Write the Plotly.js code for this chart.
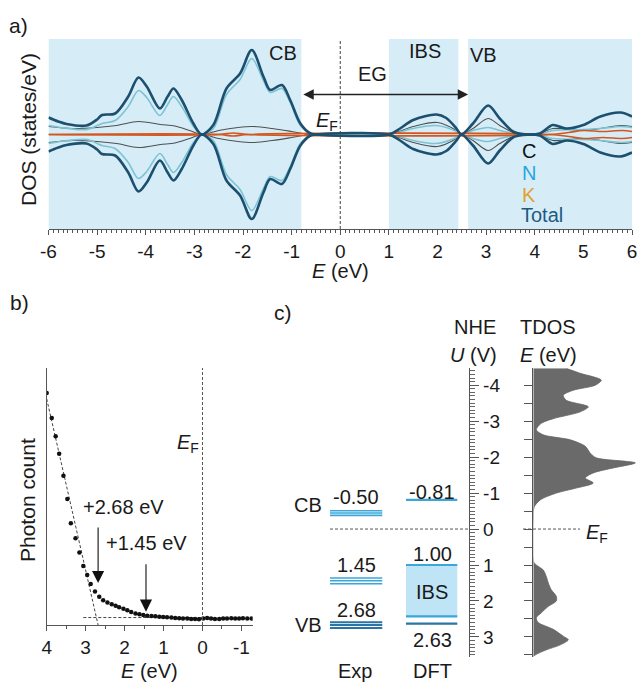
<!DOCTYPE html>
<html><head><meta charset="utf-8">
<script src="https://cdn.plot.ly/plotly-3.0.1.min.js"></script>
<style>html,body{margin:0;padding:0;background:#fff}#g{width:638px;height:684px}</style>
</head><body><div id="g"></div>
<script>
// ---------- Panel a: DOS (upper half; lower half is mirror) ----------
const totE = [-6.0,-5.8,-5.63,-5.22,-5.0,-4.9,-4.63,-4.36,-4.15,-3.98,-3.71,-3.55,-3.43,-3.26,-3.02,-2.85,-2.61,-2.34,-2.06,-1.82,-1.58,-1.44,-1.2,-1.03,-0.82,-0.61,-0.5,1.0,1.23,1.5,1.98,2.18,2.39,2.49,2.73,3.04,3.28,3.55,3.75,4.1,4.37,4.65,5.0,5.35,5.76,6.0];
const totH = [17,13,10.5,9,15,19.5,21,38,57,48,26,38,46,34.5,11,0,9.5,46,61,84.5,58,44.5,49.5,34.5,11,1,0,0,6,14.5,20,16.5,6,0,11,29,16,3,0.5,1,9.5,6,9.5,18,22,18];
const nE = [-6.0,-5.6,-5.2,-4.9,-4.63,-4.36,-4.15,-3.98,-3.71,-3.55,-3.43,-3.26,-3.02,-2.85,-2.61,-2.34,-2.06,-1.82,-1.58,-1.44,-1.2,-1.03,-0.82,-0.61,-0.5,1.0,1.5,1.98,2.39,2.49,2.73,3.04,3.28,3.55,3.75,4.1,4.37,5.0,5.35,5.76,6.0];
const nH = [9,6,5,11,14,28,44,37,19,30,38,28,8,0,6,40,55,76,54,42,46,32,9,0.5,0,0,6,9,3,0,4,7,4,1,0,0.5,4,5,6,8,7];
const cE = [-6.0,-5.5,-5.0,-4.6,-4.15,-3.7,-3.4,-3.1,-2.85,-2.5,-2.1,-1.8,-1.4,-1.0,-0.7,-0.6,1.0,1.5,2.0,2.39,2.49,2.73,3.04,3.28,3.55,3.75,4.1,4.37,5.0,5.35,5.76,6.0];
const cH = [8,6,7,9,13,10,8.5,4,0,4,7,8,6,3,0.5,0,0,8,12,4,0,6,16,9,2,0,1,6,4,6,9,8];
const kE = [-6.0,-2.5,-2.2,-1.9,4.3,4.7,5.0,5.4,5.8,6.0];
const kH = [0,0,1.5,0,0,2,4,3,4,3];
const bandEdges = [[-6,-0.8],[1.0,2.43],[2.63,6]];
const bandNames = ['CB','IBS','VB'];
const aTicks = [-6,-5,-4,-3,-2,-1,0,1,2,3,4,5,6];
const aTickText = ['-6','-5','-4','-3','-2','-1','0','1','2','3','4','5','6'];
const gapArrow = [-0.79, 2.63];

// ---------- Panel b: photon count ----------
const bE = [4.00,3.87,3.77,3.68,3.57,3.47,3.38,3.26,3.16,3.06,2.96,2.87,2.76,2.65,2.55,2.44,2.33,2.23,2.14,2.03,1.93,1.83,1.72,1.62,1.52,1.42,1.31,1.21,1.11,1.01,0.91,0.80,0.70,0.60,0.50,0.39,0.29,0.19,0.09,-0.02,-0.12,-0.22,-0.32,-0.43,-0.53,-0.63,-0.74,-0.84,-0.94,-1.04,-1.15,-1.26];
const bC = [90.3,80.5,73.4,66.6,58.1,49.0,39.6,33.8,28.2,23.0,19.5,16.0,13.0,11.0,9.6,8.8,8.1,7.5,6.9,6.3,5.7,5.1,4.5,4.2,3.9,3.6,3.5,3.4,3.2,3.1,3.0,2.9,2.7,2.6,2.5,2.5,2.3,2.3,2.2,2.5,2.7,2.5,2.3,2.3,2.5,2.5,2.6,2.5,2.5,2.6,2.5,2.5];
const fitE = [4.0, 2.68], fitC = [88, 0];
const baseE = [3.06, 0.0], baseC = [2.9, 2.9];
const bTicks = [4,3,2,1,0,-1];
const bTickText = ['4','3','2','1','0','-1'];
const onsets = [2.68, 1.45];
const onsetText = ['+2.68 eV','+1.45 eV'];

// ---------- Panel c: band positions (NHE) and TDOS ----------
const expCB = [-0.51,-0.445,-0.38];
const expIBS = [1.36,1.44,1.52];
const expVB = [2.59,2.67,2.75];
const dftCB = -0.81, dftIBSTop = 1.00, dftIBSBottom = 2.43, dftVB = 2.63;
const expLabels = ['-0.50','1.45','2.68'];
const dftLabels = ['-0.81','1.00','2.63'];
const cTicks = [-4,-3,-2,-1,0,1,2,3];
const cTickText = ['-4','-3','-2','-1','0','1','2','3'];
const tdosE = [-4.47,-4.33,-4.14,-4.0,-3.86,-3.72,-3.58,-3.4,-3.26,-3.07,-2.94,-2.76,-2.62,-2.48,-2.3,-2.11,-1.98,-1.84,-1.70,-1.56,-1.42,-1.28,-1.14,-1.0,-0.81,-0.62,-0.44,0.9,1.0,1.14,1.32,1.5,1.69,1.87,2.0,2.15,2.33,2.47,2.6,2.79,2.98,3.08,3.22,3.36,3.5,3.55];
const tdosW = [33,47,68,62,40,30,33,55,47,20,8,3,10,37,52,57,63,102,80,60,52,60,43,23,7,1,0,0,3,10,13,15,18,23,23,15,8,3,5,20,30,35,27,13,2,0];

// ---------- helpers ----------
const W = 638, H = 684;
const px = x => x / W, py = y => 1 - y / H;
const FONT = 'Liberation Sans, Arial, sans-serif';
const TXT = '#1a1a1a';
const FS = 20, TFS = 19;
const neg = a => a.map(v => -v);

const colTot = '#1d4f6f', colN = '#7cc3d3', colC = '#505050', colK = '#d4561f';
const traces = [];
function dosPair(E, Hh, color, width) {
  [Hh, neg(Hh)].forEach(yy => traces.push({
    x: E, y: yy, xaxis: 'x', yaxis: 'y', mode: 'lines', type: 'scatter',
    line: {color: color, width: width, shape: 'spline', smoothing: 0.9},
    hoverinfo: 'skip', showlegend: false
  }));
}
dosPair(cE, cH, colC, 1.1);
dosPair(nE, nH, colN, 1.6);
dosPair(kE, kH, colK, 1.6);
dosPair(totE, totH, colTot, 2.6);

// panel b
traces.push({x: fitE, y: fitC, xaxis: 'x2', yaxis: 'y2', mode: 'lines',
  line: {color: '#444', width: 1, dash: '3px,2px'}, showlegend: false, hoverinfo: 'skip'});
traces.push({x: baseE, y: baseC, xaxis: 'x2', yaxis: 'y2', mode: 'lines',
  line: {color: '#444', width: 1, dash: '3px,2px'}, showlegend: false, hoverinfo: 'skip'});
traces.push({x: bE, y: bC, xaxis: 'x2', yaxis: 'y2', mode: 'markers',
  marker: {color: '#111', size: 4.5}, showlegend: false, hoverinfo: 'skip'});

// panel c levels (x3 range 0..1 spans the level column)
const expX = [0.177, 0.486], dftX = [0.626, 0.929];
const lightBlue = '#3aa6da', darkBlue = '#2a74a6';
traces.push({x: [dftX[0], dftX[1], dftX[1], dftX[0], dftX[0]],
  y: [dftIBSTop, dftIBSTop, dftIBSBottom, dftIBSBottom, dftIBSTop],
  xaxis: 'x3', yaxis: 'y3', mode: 'lines', fill: 'toself', fillcolor: '#bfe4f6',
  line: {width: 0}, showlegend: false, hoverinfo: 'skip'});
function level(xr, u, color, width) {
  traces.push({x: xr, y: [u, u], xaxis: 'x3', yaxis: 'y3', mode: 'lines',
    line: {color: color, width: width}, showlegend: false, hoverinfo: 'skip'});
}
expCB.forEach(u => level(expX, u, lightBlue, 1.6));
expIBS.forEach(u => level(expX, u, lightBlue, 1.6));
expVB.forEach(u => level(expX, u, darkBlue, 2));
level(dftX, dftCB, lightBlue, 2.2);
level(dftX, dftIBSTop, lightBlue, 2.2);
level(dftX, dftIBSBottom, lightBlue, 2.2);
level(dftX, dftVB, darkBlue, 2.4);

// TDOS
traces.push({x: tdosW, y: tdosE, xaxis: 'x4', yaxis: 'y4', mode: 'lines',
  fill: 'tozerox', fillcolor: '#6a6a6a', line: {color: '#666', width: 0.8, shape: 'spline', smoothing: 0.8},
  showlegend: false, hoverinfo: 'skip'});

// ---------- shapes ----------
const shapes = [];
bandEdges.forEach(b => shapes.push({type: 'rect', xref: 'x', yref: 'y domain', x0: b[0], x1: b[1], y0: 0, y1: 1,
  fillcolor: '#d6edf8', line: {width: 0}, layer: 'below'}));
shapes.push({type: 'line', xref: 'x', yref: 'y domain', x0: 0, x1: 0, y0: 0, y1: 1,
  line: {color: '#444', width: 1, dash: '3px,2px'}});
shapes.push({type: 'line', xref: 'x2', yref: 'y2 domain', x0: 0, x1: 0, y0: 0, y1: 1,
  line: {color: '#555', width: 1, dash: '3px,2px'}});
shapes.push({type: 'line', xref: 'paper', yref: 'y3', x0: px(330), x1: px(469), y0: 0, y1: 0,
  line: {color: '#555', width: 1, dash: '3px,2px'}});
shapes.push({type: 'line', xref: 'paper', yref: 'y4', x0: px(523), x1: px(580), y0: 0, y1: 0,
  line: {color: '#555', width: 1, dash: '3px,2px'}});

// ---------- annotations ----------
const ann = [];
function t(x, y, text, size, opts) {
  ann.push(Object.assign({xref: 'paper', yref: 'paper', x: px(x), y: py(y), text: text, showarrow: false,
    xanchor: 'center', yanchor: 'middle', font: {family: FONT, size: size, color: TXT}}, opts || {}));
}
t(18, 25, 'a)', 21);
t(29, 130, 'DOS (states/eV)', 21, {textangle: -90});
t(340, 271, '<i>E</i> (eV)', FS);
t(283, 53, bandNames[0], FS);
t(425, 51, bandNames[1], FS);
t(483, 55, bandNames[2], FS);
t(372, 74, 'EG', FS);
t(327, 121, '<i>E</i><sub>F</sub>', FS);
t(520, 151, 'C', FS, {xanchor: 'left', font: {family: FONT, size: FS, color: '#111'}});
t(520, 173, 'N', FS, {xanchor: 'left', font: {family: FONT, size: FS, color: '#2aa5de'}});
t(520, 195, 'K', FS, {xanchor: 'left', font: {family: FONT, size: FS, color: '#e3a02c'}});
t(519, 215, 'Total', FS, {xanchor: 'left', font: {family: FONT, size: FS, color: '#1e5a80'}});
ann.push({xref: 'x', yref: 'y', x: gapArrow[1], y: 40, ax: gapArrow[0], ay: 40, axref: 'x', ayref: 'y',
  text: '', showarrow: true, arrowhead: 2, startarrowhead: 2, arrowside: 'end+start', arrowsize: 1.6, startarrowsize: 1.6,
  arrowwidth: 1.3, arrowcolor: '#222'});

// panel b
t(20, 303, 'b)', 21);
t(27, 500, 'Photon count', 21, {textangle: -90});
t(149, 671, '<i>E</i> (eV)', FS);
t(188, 443, '<i>E</i><sub>F</sub>', FS);
t(123, 507, onsetText[0], FS);
t(146, 543, onsetText[1], FS);
ann.push({xref: 'x2', yref: 'y2', x: onsets[0], y: 16.3, ax: onsets[0], ay: 38.5, axref: 'x2', ayref: 'y2',
  text: '', showarrow: true, arrowhead: 2, arrowsize: 2.2, arrowwidth: 1.1, arrowcolor: '#111'});
ann.push({xref: 'x2', yref: 'y2', x: onsets[1], y: 5.2, ax: onsets[1], ay: 24.2, axref: 'x2', ayref: 'y2',
  text: '', showarrow: true, arrowhead: 2, arrowsize: 2.2, arrowwidth: 1.1, arrowcolor: '#111'});

// panel c
t(283, 312, 'c)', 21);
t(475, 327, 'NHE', FS);
t(473, 355, '<i>U</i> (V)', FS);
t(548, 327, 'TDOS', FS);
t(548, 355, '<i>E</i> (eV)', FS);
t(308, 505, 'CB', FS);
t(308, 625, 'VB', FS);
t(356, 497, expLabels[0], FS);
t(356, 565, expLabels[1], FS);
t(356, 610, expLabels[2], FS);
t(432, 492, dftLabels[0], FS);
t(432, 554, dftLabels[1], FS);
t(432, 640, dftLabels[2], FS);
t(432, 592, 'IBS', FS);
t(355, 671, 'Exp', FS);
t(432, 671, 'DFT', FS);
t(597, 533, '<i>E</i><sub>F</sub>', FS);

// ---------- layout ----------
const axBase = {showgrid: false, zeroline: false, linecolor: '#555', linewidth: 1, tickcolor: '#555',
  tickfont: {family: FONT, size: TFS, color: TXT}};
const layout = {
  width: W, height: H, margin: {l: 0, r: 0, t: 0, b: 0},
  paper_bgcolor: '#fff', plot_bgcolor: 'rgba(0,0,0,0)', showlegend: false,
  font: {family: FONT, color: TXT},
  xaxis: Object.assign({}, axBase, {domain: [px(48.5), px(632)], range: [-6, 6], anchor: 'y',
    showline: true, ticks: 'outside', ticklen: 5, tickvals: aTicks, ticktext: aTickText,
    minor: {dtick: 0.1, tick0: 0, ticks: 'outside', ticklen: 3, tickcolor: '#555'}}),
  yaxis: {domain: [py(229), py(39)], range: [-94.5, 95.5], anchor: 'x', visible: false},
  xaxis2: Object.assign({}, axBase, {domain: [px(46.7), px(252.7)], range: [4, -1.29], anchor: 'y2',
    showline: true, ticks: 'outside', ticklen: 5, tickvals: bTicks, ticktext: bTickText,
    minor: {dtick: 0.5, tick0: 0, ticks: 'outside', ticklen: 3, tickcolor: '#555'}}),
  yaxis2: Object.assign({}, axBase, {domain: [py(625), py(368)], range: [0, 100], anchor: 'x2',
    showline: true, ticks: '', showticklabels: false}),
  xaxis3: {domain: [px(300), px(469.3)], range: [0, 1], anchor: 'y3', visible: false},
  yaxis3: Object.assign({}, axBase, {domain: [py(656.7), py(368.3)], range: [3.55, -4.47], anchor: 'x3', side: 'right',
    showline: true, ticks: 'outside', ticklen: 9, tickvals: cTicks, ticktext: cTickText,
    minor: {dtick: 0.1, tick0: 0, ticks: 'outside', ticklen: 5, tickcolor: '#666'}}),
  xaxis4: {domain: [px(533.3), 1], range: [0, 104.7], anchor: 'y4', visible: false},
  yaxis4: Object.assign({}, axBase, {domain: [py(656.7), py(368.3)], range: [3.55, -4.47], anchor: 'x4', side: 'left',
    showline: true, ticks: 'outside', ticklen: 8, dtick: 0.5, tick0: 0, showticklabels: false}),
  shapes: shapes, annotations: ann
};
Plotly.newPlot('g', traces, layout, {staticPlot: true, displayModeBar: false});
</script></body></html>
